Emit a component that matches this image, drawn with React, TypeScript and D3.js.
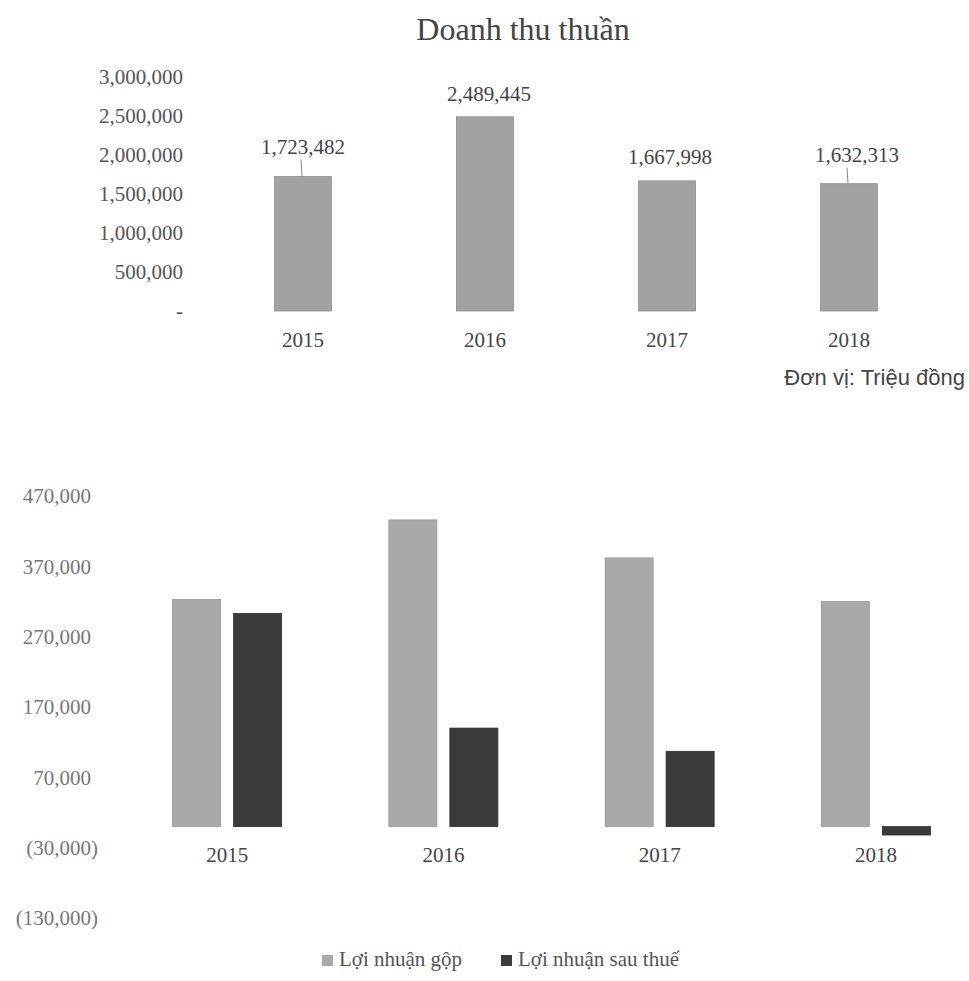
import React from "react";
import * as d3 from "d3";

const years = ["2015", "2016", "2017", "2018"];
const revenue = [1723482, 2489445, 1667998, 1632313];
const revenueTicks = [0, 500000, 1000000, 1500000, 2000000, 2500000, 3000000];

const seriesNames = ["Lợi nhuận gộp", "Lợi nhuận sau thuế"];
const grossProfit = [323000, 436000, 382000, 320000];
const netProfit = [303000, 140000, 107000, -12000];
const profitTicks = [-130000, -30000, 70000, 170000, 270000, 370000, 470000];

const labelGap = [23, 16, 17, 22];
const hasLeader = [true, false, false, true];

const W = 969;
const H = 981;
const SERIF = "'Liberation Serif', 'Times New Roman', serif";
const SANS = "'Liberation Sans', Arial, sans-serif";
const barColors = ["#a9a9a9", "#3b3b3b"];

export default function App() {
  const fmt = d3.format(",");

  // top chart
  const x1 = d3.scaleBand<string>().domain(years).range([212, 940]).paddingInner(0.686).paddingOuter(0.343);
  const y1 = d3.scaleLinear().domain([0, 3000000]).range([311, 77]);

  // bottom chart
  const x2 = d3.scaleBand<string>().domain(years).range([119, 984]).paddingInner(0.496).paddingOuter(0.248);
  const xs = d3.scaleBand<string>().domain(seriesNames).range([0, x2.bandwidth()]).paddingInner(0.213).paddingOuter(0);
  const y2 = d3.scaleLinear().domain([-130000, 470000]).range([918, 496]);

  const profitSeries = [grossProfit, netProfit];
  const fmtProfit = (v: number) => (v < 0 ? `(${fmt(-v)})` : fmt(v));

  return (
    <svg width={W} height={H} style={{ position: "absolute", left: 0, top: 0, background: "#fff" }}>
      <rect x={0} y={0} width={W} height={H} fill="#ffffff" />
      {/* Title */}
      <text x={523} y={40} textAnchor="middle" fontFamily={SERIF} fontSize={32} fill="#444">
        Doanh thu thuần
      </text>

      {/* Top y axis labels */}
      {revenueTicks.map((t) => (
        <text key={t} x={183} y={y1(t)} dy="0.35em" textAnchor="end" fontFamily={SERIF} fontSize={21} fill="#555">
          {t === 0 ? "-" : fmt(t)}
        </text>
      ))}

      {/* Top bars */}
      {years.map((yr, i) => {
        const x = x1(yr)!;
        const top = y1(revenue[i]);
        const cx = x + x1.bandwidth() / 2;
        return (
          <g key={yr}>
            <rect x={x} y={top} width={x1.bandwidth()} height={y1(0) - top} fill="#a2a2a2" stroke="#8e8e8e" strokeWidth={0.8} />
            {hasLeader[i] && (
              <line x1={cx - 2} y1={top - labelGap[i] + 6} x2={cx - 1} y2={top} stroke="#888" strokeWidth={1} />
            )}
            <text x={cx + (i === 1 ? 4 : i === 3 ? 8 : i === 2 ? 3 : 0)} y={top - labelGap[i]} textAnchor="middle" fontFamily={SERIF} fontSize={21} fill="#444">
              {fmt(revenue[i])}
            </text>
            <text x={cx} y={347} textAnchor="middle" fontFamily={SERIF} fontSize={21} fill="#444">
              {yr}
            </text>
          </g>
        );
      })}

      {/* Unit note */}
      <text x={965} y={385} textAnchor="end" fontFamily={SANS} fontSize={22} fill="#444">
        Đơn vị: Triệu đồng
      </text>

      {/* Bottom y axis labels */}
      {profitTicks.map((t) => (
        <text key={t} x={t < 0 ? 98 : 91} y={y2(t)} dy="0.35em" textAnchor="end" fontFamily={SERIF} fontSize={21} fill="#777">
          {fmtProfit(t)}
        </text>
      ))}

      {/* Bottom bars */}
      {years.map((yr, i) => (
        <g key={yr}>
          {seriesNames.map((s, j) => {
            const v = profitSeries[j][i];
            const x = x2(yr)! + xs(s)!;
            const yTop = Math.min(y2(v), y2(0));
            const h = Math.abs(y2(v) - y2(0));
            return <rect key={s} x={x} y={yTop} width={xs.bandwidth()} height={h} fill={barColors[j]} stroke={j === 0 ? "#999" : "#2a2a2a"} strokeWidth={0.8} />;
          })}
          <text x={x2(yr)! + x2.bandwidth() / 2} y={862} textAnchor="middle" fontFamily={SERIF} fontSize={21} fill="#444">
            {yr}
          </text>
        </g>
      ))}

      {/* Legend */}
      {seriesNames.map((s, j) => {
        const lx = j === 0 ? 322 : 501;
        return (
          <g key={s}>
            <rect x={lx} y={955} width={11} height={11} fill={barColors[j]} />
            <text x={lx + 17} y={966} fontFamily={SERIF} fontSize={21} fill="#555">
              {s}
            </text>
          </g>
        );
      })}
    </svg>
  );
}
